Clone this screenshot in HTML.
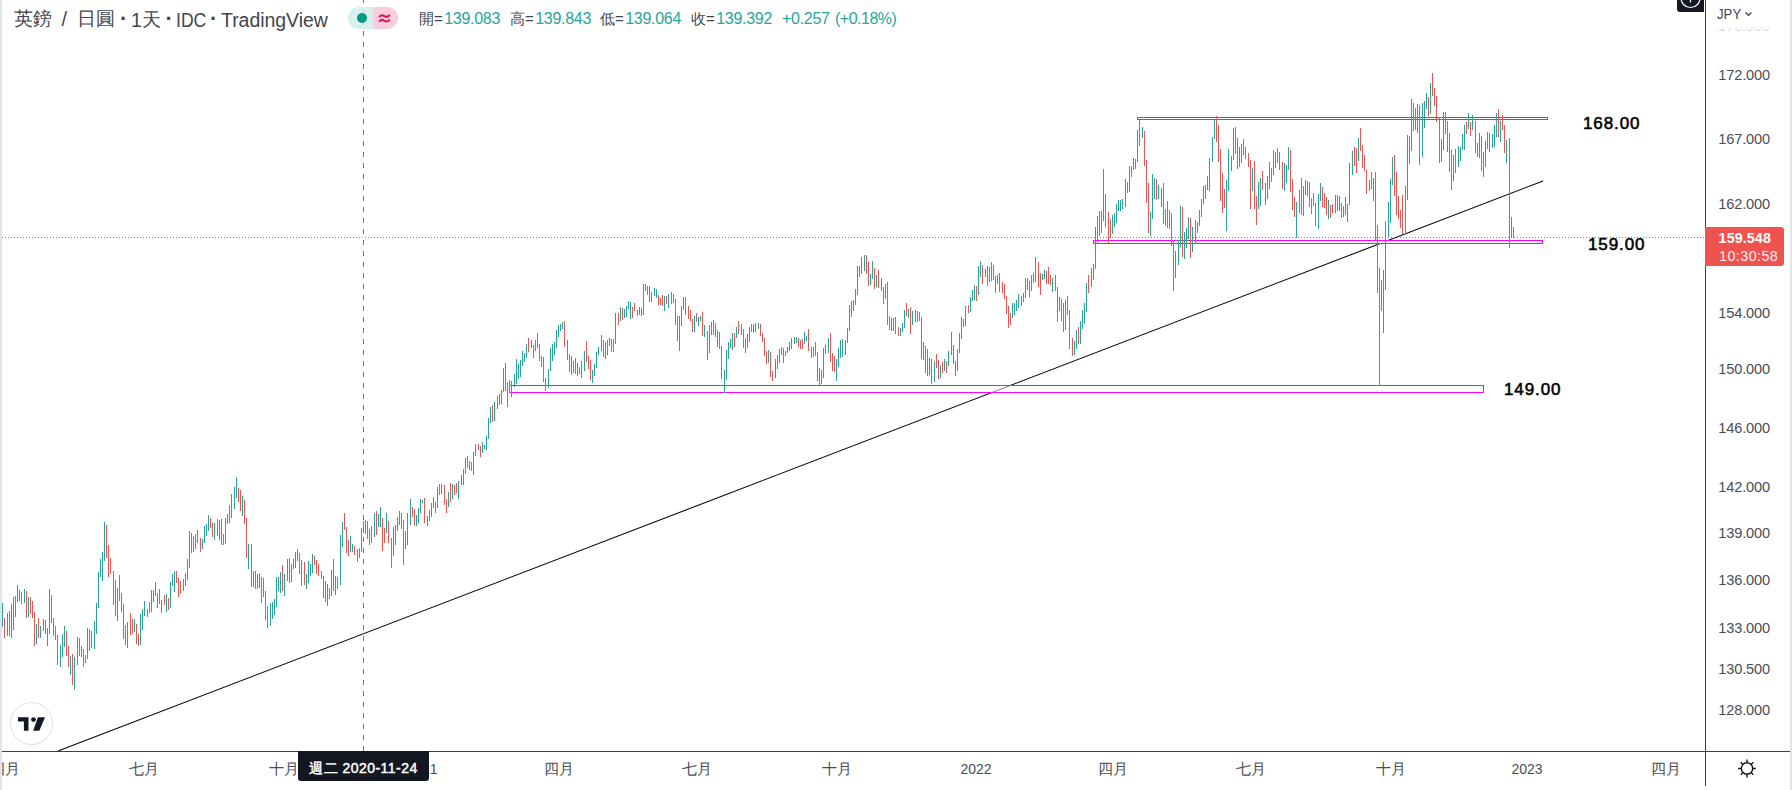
<!DOCTYPE html>
<html lang="zh-Hant"><head><meta charset="utf-8"><title>GBPJPY</title>
<style>
html,body{margin:0;padding:0;}
body{width:1792px;height:790px;overflow:hidden;background:#fff;position:relative;font-family:"Liberation Sans",sans-serif;color:#131722;}
.abs{position:absolute;white-space:nowrap;}
.strip{position:absolute;top:0;width:2px;height:790px;background:#e0e3eb;}
svg{position:absolute;left:0;top:0;}
.yl{position:absolute;left:1718.3px;font-size:14.6px;letter-spacing:-0.15px;line-height:17px;color:#4a4d58;white-space:nowrap;}
.xl{position:absolute;top:760px;width:60px;margin-left:-30px;text-align:center;font-size:14px;line-height:18px;color:#4a4d58;white-space:nowrap;}
.ttl{position:absolute;top:8px;font-size:19px;line-height:22px;color:#434651;white-space:nowrap;}
.lg{position:absolute;top:10px;font-size:15px;line-height:18px;color:#434651;white-space:nowrap;}
.lg b{font-weight:normal;color:#26a69a;font-size:16px;letter-spacing:-0.3px;margin-left:1.5px;}
.lg i{font-style:normal;color:#26a69a;font-size:16px;letter-spacing:-0.5px;}
.ann{position:absolute;font-size:17px;line-height:20px;font-weight:normal;-webkit-text-stroke:0.55px #000;color:#000;letter-spacing:0.9px;white-space:nowrap;}
</style></head><body>
<svg width="1792" height="790" viewBox="0 0 1792 790">
<!-- trend line -->
<line x1="58" y1="751" x2="1543" y2="181" stroke="#000" stroke-width="1.05"/>
<!-- rectangles behind bars -->
<g shape-rendering="crispEdges" stroke="#ff00ff" stroke-width="1">
<rect x="1137.5" y="117.5" width="410" height="2" fill="#fff"/>
<rect x="509.5" y="385.5" width="974" height="7" fill="rgba(255,255,255,0.5)"/>
<rect x="1093.5" y="240.5" width="449" height="3" fill="rgba(255,255,255,0.9)"/>
</g>
<g shape-rendering="crispEdges" fill="none" stroke-width="1">
<path stroke="#26a69a" d="M2.5 603V627M7.5 613V636M11.5 604V638M13.5 597V630M15.5 596V617M17.5 585V602M24.5 589V603M28.5 597V617M36.5 624V644M40.5 626V638M43.5 619V631M47.5 628V646M49.5 589V634M60.5 645V667M62.5 634V657M64.5 626V647M70.5 656V675M74.5 657V690M77.5 637V665M85.5 655V663M87.5 628V659M91.5 631V648M94.5 621V649M96.5 603V634M98.5 572V608M100.5 559V577M102.5 552V581M104.5 522V561M115.5 580V616M117.5 588V621M127.5 622V648M134.5 619V632M140.5 614V645M142.5 609V630M144.5 601V616M147.5 609V617M151.5 590V612M153.5 590V602M161.5 600V613M166.5 594V612M170.5 582V608M172.5 574V586M174.5 571V592M183.5 579V591M185.5 573V586M187.5 559V580M189.5 531V568M195.5 534V549M197.5 530V543M202.5 539V549M204.5 526V543M206.5 524V536M208.5 515V531M214.5 523V540M219.5 520V540M225.5 518V544M227.5 514V524M229.5 505V523M231.5 494V518M234.5 487V509M236.5 477V498M242.5 496V516M248.5 544V569M257.5 574V589M259.5 573V588M270.5 603V626M272.5 602V619M274.5 599V615M276.5 577V607M278.5 577V591M280.5 572V593M284.5 574V596M287.5 559V581M291.5 564V582M293.5 559V569M295.5 552V568M301.5 560V586M306.5 574V589M308.5 561V583M310.5 564V576M312.5 554V573M327.5 584V606M331.5 570V596M335.5 576V595M340.5 535V585M342.5 522V547M350.5 536V552M352.5 544V552M359.5 548V558M361.5 528V552M363.5 521V533M365.5 520V534M371.5 526V543M374.5 513V537M378.5 514V527M380.5 507V527M386.5 513V533M393.5 527V556M395.5 525V545M397.5 517V531M399.5 511V525M407.5 513V545M410.5 499V525M416.5 515V526M418.5 508V523M420.5 499V513M422.5 500V503M427.5 516V526M429.5 510V521M431.5 503V517M433.5 497V508M437.5 487V508M441.5 484V494M448.5 492V507M452.5 484V499M458.5 481V499M461.5 475V485M463.5 469V485M465.5 458V474M469.5 461V470M473.5 452V475M475.5 444V456M482.5 442V453M484.5 445V449M486.5 436V450M488.5 418V439M490.5 407V423M494.5 402V421M499.5 394V405M501.5 390V404M503.5 368V392M509.5 380V393M511.5 381V397M514.5 374V387M516.5 359V384M518.5 364V379M520.5 360V377M522.5 351V366M524.5 353V362M526.5 344V358M535.5 340V351M548.5 369V388M550.5 348V371M552.5 344V361M554.5 342V355M556.5 330V348M558.5 325V337M560.5 324V331M562.5 322V329M571.5 356V375M577.5 363V376M581.5 361V378M584.5 351V371M592.5 370V383M594.5 364V376M596.5 352V368M598.5 347V355M601.5 335V351M605.5 342V359M607.5 340V355M609.5 338V346M615.5 313V344M620.5 307V321M624.5 309V318M626.5 306V317M628.5 301V309M630.5 302V319M641.5 308V316M643.5 284V315M651.5 292V302M654.5 288V296M656.5 289V298M664.5 296V311M668.5 294V308M679.5 316V351M681.5 306V326M683.5 297V310M694.5 316V332M698.5 317V326M700.5 316V321M704.5 325V337M709.5 325V353M711.5 322V335M724.5 370V393M726.5 350V380M728.5 342V359M730.5 339V348M732.5 333V350M736.5 327V338M747.5 334V348M749.5 327V342M751.5 324V332M755.5 323V332M758.5 323V329M768.5 350V363M775.5 359V378M779.5 349V363M781.5 347V355M783.5 348V363M785.5 351V356M787.5 347V353M789.5 342V351M791.5 338V349M794.5 337V344M796.5 337V343M804.5 332V344M806.5 336V341M821.5 370V384M823.5 348V378M825.5 345V354M828.5 338V353M836.5 359V381M838.5 348V367M840.5 340V358M842.5 339V357M845.5 340V355M847.5 328V343M849.5 305V331M851.5 301V317M853.5 300V311M855.5 289V305M857.5 266V295M861.5 257V274M864.5 255V271M870.5 274V285M872.5 261V279M876.5 275V287M885.5 284V299M891.5 318V331M893.5 318V331M900.5 328V336M902.5 323V332M904.5 310V328M908.5 309V318M912.5 311V325M915.5 310V322M923.5 342V360M929.5 358V375M934.5 361V382M940.5 365V378M944.5 359V371M948.5 351V366M951.5 332V355M953.5 345V364M957.5 349V371M959.5 333V353M961.5 317V339M965.5 306V326M970.5 297V312M972.5 290V301M974.5 285V300M978.5 266V295M980.5 261V277M985.5 269V277M989.5 267V282M997.5 275V284M1012.5 303V318M1014.5 303V315M1016.5 300V311M1018.5 294V308M1021.5 296V306M1023.5 293V302M1025.5 278V298M1031.5 275V291M1033.5 273V283M1035.5 257V282M1042.5 274V280M1044.5 270V279M1052.5 278V292M1059.5 297V311M1065.5 300V330M1074.5 341V355M1076.5 330V349M1080.5 321V344M1082.5 310V329M1084.5 303V324M1086.5 283V312M1091.5 268V287M1093.5 264V280M1095.5 227V269M1099.5 211V236M1103.5 169V221M1112.5 215V234M1114.5 213V227M1116.5 204V223M1118.5 200V211M1120.5 200V211M1122.5 199V209M1125.5 179V207M1129.5 166V192M1133.5 158V170M1135.5 159V169M1137.5 130V162M1142.5 127V138M1150.5 212V236M1152.5 174V219M1154.5 178V199M1158.5 185V199M1161.5 188V207M1165.5 209V226M1175.5 251V278M1178.5 240V265M1180.5 206V247M1184.5 232V259M1186.5 228V248M1188.5 217V239M1192.5 227V252M1195.5 220V244M1197.5 222V233M1199.5 210V226M1201.5 199V217M1203.5 186V204M1205.5 185V199M1207.5 176V190M1209.5 158V191M1212.5 137V162M1214.5 119V139M1226.5 180V231M1228.5 149V191M1231.5 156V171M1233.5 128V160M1239.5 147V167M1241.5 144V163M1252.5 168V191M1258.5 182V209M1260.5 178V206M1267.5 176V199M1269.5 162V189M1273.5 150V175M1275.5 152V168M1284.5 163V191M1286.5 165V183M1288.5 147V170M1296.5 202V238M1299.5 190V213M1303.5 186V216M1305.5 180V195M1318.5 194V229M1320.5 183V201M1328.5 200V219M1335.5 195V213M1339.5 196V211M1343.5 206V217M1347.5 204V222M1349.5 163V205M1352.5 151V175M1358.5 138V161M1369.5 180V191M1381.5 280V311M1383.5 270V333M1385.5 221V290M1388.5 202V238M1390.5 179V223M1392.5 157V185M1405.5 186V234M1407.5 135V200M1411.5 99V151M1417.5 104V133M1422.5 103V157M1424.5 101V128M1426.5 93V109M1430.5 83V114M1441.5 139V162M1443.5 112V150M1453.5 155V181M1455.5 149V173M1458.5 146V167M1460.5 147V161M1462.5 134V150M1464.5 125V150M1468.5 113V129M1472.5 115V130M1479.5 133V158M1485.5 141V167M1489.5 133V152M1492.5 134V148M1494.5 125V147M1496.5 113V137M1500.5 121V142M1506.5 140V163"/>
<path stroke="#ef5350" d="M4.5 618V638M9.5 611V636M19.5 590V601M21.5 592V604M26.5 591V618M30.5 597V614M32.5 601V618M34.5 612V646M38.5 618V638M45.5 620V634M51.5 595V623M53.5 618V636M55.5 626V640M57.5 635V665M66.5 631V656M68.5 646V667M72.5 654V685M79.5 638V656M81.5 646V657M83.5 649V667M89.5 629V651M106.5 525V558M108.5 545V577M110.5 558V574M113.5 571V605M119.5 575V601M121.5 593V612M123.5 604V639M125.5 625V645M130.5 613V635M132.5 619V634M136.5 624V644M138.5 634V646M149.5 602V613M155.5 582V596M157.5 593V608M159.5 589V604M164.5 595V605M168.5 598V610M176.5 571V583M178.5 578V597M180.5 581V594M191.5 533V553M193.5 536V552M200.5 538V552M210.5 518V528M212.5 523V537M217.5 519V536M221.5 519V545M223.5 534V545M238.5 488V502M240.5 490V511M244.5 500V524M246.5 518V558M251.5 544V587M253.5 571V587M255.5 571V589M261.5 577V603M263.5 578V597M265.5 591V620M267.5 606V628M282.5 565V591M289.5 558V583M297.5 549V561M299.5 553V574M304.5 562V585M314.5 556V565M316.5 560V574M318.5 564V576M321.5 571V579M323.5 576V598M325.5 581V602M329.5 588V599M333.5 559V591M337.5 577V589M344.5 513V530M346.5 527V553M348.5 540V556M354.5 546V555M357.5 549V562M367.5 521V539M369.5 529V545M376.5 511V535M382.5 518V551M384.5 528V543M388.5 521V543M391.5 538V568M401.5 513V529M403.5 520V565M405.5 531V549M412.5 507V517M414.5 509V526M424.5 498V523M435.5 502V513M439.5 484V495M444.5 485V505M446.5 499V513M450.5 483V502M454.5 485V495M456.5 483V493M467.5 456V468M471.5 462V471M478.5 444V450M480.5 446V457M492.5 405V422M497.5 396V409M505.5 363V391M507.5 382V407M528.5 338V352M531.5 340V348M533.5 345V358M537.5 333V348M539.5 344V361M541.5 356V367M543.5 357V382M545.5 378V391M564.5 321V347M567.5 340V360M569.5 354V372M573.5 361V373M575.5 358V374M579.5 367V374M586.5 341V362M588.5 356V369M590.5 360V380M603.5 340V357M611.5 339V352M613.5 339V352M618.5 313V325M622.5 308V320M632.5 307V318M634.5 303V311M637.5 310V316M639.5 307V315M645.5 284V291M647.5 286V295M649.5 286V302M658.5 295V305M660.5 298V305M662.5 295V306M666.5 296V304M671.5 292V304M673.5 294V303M675.5 299V325M677.5 316V341M685.5 297V315M688.5 306V319M690.5 310V321M692.5 319V332M696.5 313V322M702.5 312V336M707.5 331V360M713.5 320V335M715.5 323V337M717.5 330V347M719.5 332V349M721.5 346V379M734.5 333V347M738.5 321V334M741.5 324V335M743.5 329V348M745.5 338V353M753.5 324V333M760.5 324V336M762.5 333V342M764.5 338V356M766.5 351V364M770.5 352V377M772.5 371V381M777.5 355V369M798.5 338V347M800.5 340V349M802.5 339V349M808.5 329V351M811.5 347V358M813.5 347V357M815.5 342V356M817.5 352V381M819.5 368V385M830.5 333V362M832.5 353V371M834.5 356V372M859.5 266V277M866.5 255V274M868.5 262V286M874.5 268V289M878.5 270V288M881.5 278V291M883.5 287V304M887.5 282V325M889.5 316V330M895.5 317V334M898.5 327V336M906.5 303V316M910.5 307V334M917.5 311V322M919.5 312V321M921.5 317V359M925.5 346V373M927.5 349V376M931.5 359V384M936.5 354V368M938.5 360V379M942.5 362V373M946.5 361V373M955.5 361V376M963.5 319V327M968.5 305V313M976.5 286V301M982.5 265V284M987.5 266V286M991.5 262V281M993.5 265V280M995.5 276V293M999.5 273V292M1002.5 282V293M1004.5 284V299M1006.5 296V314M1008.5 306V328M1010.5 313V325M1027.5 278V290M1029.5 281V297M1038.5 262V287M1040.5 273V295M1046.5 271V284M1048.5 267V284M1050.5 275V285M1055.5 275V291M1057.5 287V322M1061.5 299V321M1063.5 303V332M1067.5 296V315M1069.5 310V349M1072.5 338V356M1078.5 327V344M1088.5 275V293M1097.5 216V244M1101.5 211V233M1105.5 194V227M1108.5 212V243M1110.5 219V238M1127.5 182V193M1131.5 166V177M1139.5 120V146M1144.5 131V166M1146.5 160V203M1148.5 183V233M1156.5 179V200M1163.5 183V224M1167.5 201V228M1169.5 210V229M1171.5 213V246M1173.5 240V291M1182.5 207V257M1190.5 218V258M1216.5 116V142M1218.5 125V162M1220.5 149V201M1222.5 173V213M1224.5 189V208M1235.5 127V154M1237.5 138V169M1243.5 139V155M1245.5 147V159M1248.5 153V167M1250.5 160V209M1254.5 161V209M1256.5 196V225M1262.5 171V190M1265.5 183V205M1271.5 168V182M1277.5 148V163M1279.5 152V170M1282.5 162V189M1290.5 150V192M1292.5 179V210M1294.5 197V217M1301.5 178V215M1307.5 181V196M1309.5 182V207M1311.5 198V214M1313.5 193V206M1315.5 203V226M1322.5 187V207M1324.5 193V208M1326.5 197V215M1330.5 205V218M1332.5 204V213M1337.5 195V211M1341.5 203V218M1345.5 197V215M1354.5 147V166M1356.5 148V173M1360.5 128V151M1362.5 145V168M1364.5 155V171M1366.5 170V194M1371.5 172V189M1373.5 178V201M1375.5 172V241M1377.5 225V293M1379.5 268V386M1394.5 155V196M1396.5 172V215M1398.5 196V219M1400.5 210V228M1402.5 195V234M1409.5 136V164M1413.5 103V131M1415.5 108V130M1419.5 105V165M1428.5 97V116M1432.5 73V96M1434.5 88V106M1436.5 96V122M1439.5 117V163M1445.5 112V134M1447.5 121V152M1449.5 133V172M1451.5 150V190M1466.5 122V134M1470.5 122V136M1475.5 121V153M1477.5 143V157M1481.5 136V171M1483.5 152V177M1487.5 132V149M1498.5 109V137M1502.5 115V130M1504.5 125V153M1509.5 138V248M1511.5 217V238M1513.5 227V238"/>
</g>
<!-- price dotted line -->
<line x1="2" y1="237.5" x2="1705" y2="237.5" stroke="#ef5350" stroke-width="1" stroke-dasharray="1 2" shape-rendering="crispEdges"/>
<!-- crosshair -->
<line x1="363.5" y1="-2.3" x2="363.5" y2="751" stroke="#6a7687" stroke-width="1" stroke-dasharray="5 6" shape-rendering="crispEdges"/>
<!-- axes -->
<g shape-rendering="crispEdges" fill="#3c404b">
<rect x="2" y="751" width="1788" height="1"/>
<rect x="1705" y="0" width="1" height="786"/>
</g>
</svg>
<div class="ttl" style="left:14px;letter-spacing:0.4px">英鎊</div>
<div class="ttl" style="left:61.5px;font-size:20px">/</div>
<div class="ttl" style="left:77px;letter-spacing:0.4px">日圓</div>
<div class="ttl" style="left:120px;font-weight:bold;font-size:22px;top:8px">·</div>
<div class="ttl" style="left:131px"><span style="position:relative;top:1px;font-size:19.5px">1</span>天</div>
<div class="ttl" style="left:165.5px;font-weight:bold;font-size:22px;top:8px">·</div>
<div class="ttl" style="left:176px;top:9px;font-size:19.5px;transform:scaleX(0.9);transform-origin:0 0">IDC</div>
<div class="ttl" style="left:210px;font-weight:bold;font-size:22px;top:8px">·</div>
<div class="ttl" style="left:221px;top:9px;font-size:19.5px;letter-spacing:-0.05px">TradingView</div>
<div class="abs" style="left:348px;top:7px;width:50px;height:22px;border-radius:11px;overflow:hidden;">
<div class="abs" style="left:0;top:0;width:25px;height:22px;background:rgba(211,237,233,0.85)"></div>
<div class="abs" style="left:25px;top:0;width:25px;height:22px;background:rgba(251,194,214,0.85)"></div>
<div class="abs" style="left:9px;top:6px;width:10px;height:10px;border-radius:5px;background:#089981"></div>
<svg width="50" height="22" viewBox="0 0 50 22"><path d="M31.6 9.6c1.5-1.7 3-1.7 4.7-0.5s3.2 1.2 4.9-0.6M31.6 14.2c1.5-1.7 3-1.7 4.7-0.5s3.2 1.2 4.9-0.6" fill="none" stroke="#cc1a5c" stroke-width="2" stroke-linecap="round"/></svg>
</div>
<div class="lg" style="left:419px">開=<b>139.083</b></div>
<div class="lg" style="left:510px">高=<b>139.843</b></div>
<div class="lg" style="left:600px">低=<b>139.064</b></div>
<div class="lg" style="left:691px">收=<b>139.392</b></div>
<div class="lg" style="left:780.5px"><b>+0.257</b></div>
<div class="lg" style="left:835px"><i>(+0.18%)</i></div>
<div class="abs" style="left:1677px;top:0;width:27px;height:12px;background:#131722;border-radius:0 0 0 3px;overflow:hidden;">
<svg width="28" height="12" viewBox="0 0 28 12"><circle cx="13.5" cy="-2" r="9.5" fill="none" stroke="#fff" stroke-width="1.2"/><path d="M13.5 -2V2.5" stroke="#fff" stroke-width="1.2"/></svg></div>
<div class="abs" style="left:1717px;top:5px;font-size:15.5px;line-height:18px;color:#434651;transform:scaleX(0.85);transform-origin:0 0">JPY</div>
<svg style="left:1743.5px;top:10px" width="10" height="8" viewBox="0 0 10 8"><path d="M1.5 2.5L4.5 5.2L7.5 2.5" fill="none" stroke="#434651" stroke-width="1.4"/></svg>
<div class="abs" style="left:1706px;top:21px;width:84px;height:14px;overflow:hidden;"><div class="abs" style="left:12px;top:-3px;font-size:14.6px;letter-spacing:-0.15px;line-height:17px;color:#434651;">176.000</div><div class="abs" style="left:0;top:0;width:84px;height:14px;background:linear-gradient(to bottom,#fff 0,#fff 5px,rgba(255,255,255,0.7) 11px,rgba(255,255,255,0.6) 14px)"></div></div>
<div class="yl" style="top:67.2px">172.000</div>
<div class="yl" style="top:130.6px">167.000</div>
<div class="yl" style="top:196.0px">162.000</div>
<div class="yl" style="top:304.9px">154.000</div>
<div class="yl" style="top:361.4px">150.000</div>
<div class="yl" style="top:419.6px">146.000</div>
<div class="yl" style="top:479.3px">142.000</div>
<div class="yl" style="top:525.2px">139.000</div>
<div class="yl" style="top:572.1px">136.000</div>
<div class="yl" style="top:620.1px">133.000</div>
<div class="yl" style="top:660.9px">130.500</div>
<div class="yl" style="top:702.4px">128.000</div>
<div class="abs" style="left:1705px;top:227px;width:79px;height:39px;background:#ef5350;border-radius:0 3px 3px 0;"></div>
<div class="abs" style="left:1718.6px;top:229.6px;font-size:14.3px;line-height:17px;font-weight:bold;color:#fff;letter-spacing:0.1px">159.548</div>
<div class="abs" style="left:1719px;top:247.6px;font-size:14.3px;line-height:17px;color:#fff;opacity:0.9;letter-spacing:0.45px">10:30:58</div>
<div class="xl" style="left:4.5px;font-size:15px;top:759.5px">四月</div>
<div class="xl" style="left:143.5px;font-size:15px;top:759.5px">七月</div>
<div class="xl" style="left:283.5px;font-size:15px;top:759.5px">十月</div>
<div class="xl" style="left:422px">2021</div>
<div class="xl" style="left:558.5px;font-size:15px;top:759.5px">四月</div>
<div class="xl" style="left:696.5px;font-size:15px;top:759.5px">七月</div>
<div class="xl" style="left:836.5px;font-size:15px;top:759.5px">十月</div>
<div class="xl" style="left:976px">2022</div>
<div class="xl" style="left:1112.5px;font-size:15px;top:759.5px">四月</div>
<div class="xl" style="left:1250.5px;font-size:15px;top:759.5px">七月</div>
<div class="xl" style="left:1390.5px;font-size:15px;top:759.5px">十月</div>
<div class="xl" style="left:1527px">2023</div>
<div class="xl" style="left:1665.5px;font-size:15px;top:759.5px">四月</div>
<div class="abs" style="left:298px;top:751px;width:131px;height:30px;background:#131722;border-radius:0 0 3px 3px;"></div>
<div class="abs" style="left:298px;top:758px;width:131px;text-align:center;font-size:14px;line-height:20px;font-weight:normal;-webkit-text-stroke:0.45px #fff;color:#fff;letter-spacing:0.45px">週二 2020-11-24</div>
<div class="ann" style="left:1583px;top:114px">168.00</div>
<div class="ann" style="left:1588px;top:234.5px">159.00</div>
<div class="ann" style="left:1504px;top:380px">149.00</div>
<div class="abs" style="left:10px;top:702px;width:41px;height:41px;border:1px solid #dcdfe5;border-radius:50%;background:#fff;"></div>
<svg style="left:10px;top:702px" width="43" height="43" viewBox="0 0 43 43"><g fill="#131722"><path d="M8 15.2h10.5v13.6h-4.6v-9.2H8z"/><circle cx="23.5" cy="17.6" r="2.4"/><path d="M28 15.2h7L29.3 28.8h-6.1z"/></g></svg>
<svg style="left:1735px;top:757px" width="24" height="24" viewBox="0 0 24 24"><g fill="none" stroke="#131722" stroke-width="1.4"><circle cx="12" cy="11.5" r="5.7"/><path d="M12 2.6v3.2M12 17.2v3.2M3.1 11.5h3.2M17.7 11.5h3.2M5.7 5.2l2.3 2.3M16 15.5l2.3 2.3M18.3 5.2l-2.3 2.3M8 15.5l-2.3 2.3"/></g></svg>
<div class="strip" style="left:0"></div><div class="strip" style="left:1790px"></div>
</body></html>
